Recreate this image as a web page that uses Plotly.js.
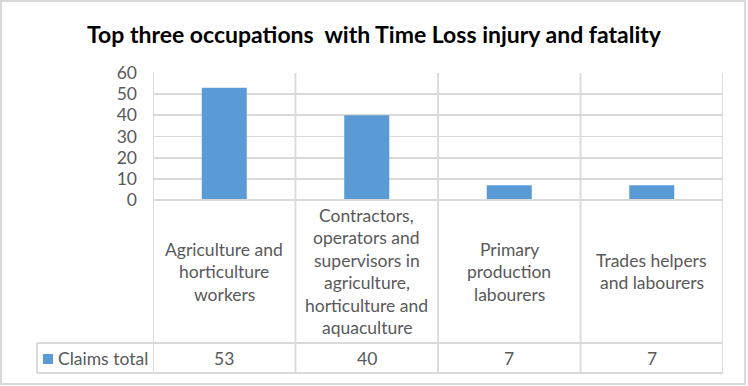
<!DOCTYPE html>
<html>
<head>
<meta charset="utf-8">
<script src="https://cdn.plot.ly/plotly-3.0.1.min.js"></script>
<style>html,body{margin:0;padding:0;background:#fff;}#chart{width:748px;height:386px;}</style>
</head>
<body>
<div id="chart"></div>
<script>
// ---- data ----
var chartTitle = "Top three occupations  with Time Loss injury and fatality";
var seriesName = "Claims total";
var categories = [
  "Agriculture and horticulture workers",
  "Contractors, operators and supervisors in agriculture, horticulture and aquaculture",
  "Primary production labourers",
  "Trades helpers and labourers"
];
var categoryLines = [
  ["Agriculture and", "horticulture", "workers"],
  ["Contractors,", "operators and", "supervisors in", "agriculture,", "horticulture and", "aquaculture"],
  ["Primary", "production", "labourers"],
  ["Trades helpers", "and labourers"]
];
var claimsTotal = [53, 40, 7, 7];
var yTickVals = [0, 10, 20, 30, 40, 50, 60];

// ---- layout geometry ----
var W = 748, H = 386;
var L = 153, R = 723, T = 73, B = 200;
var pw = R - L, ph = B - T;
function xp(px) { return (px - L) / pw; }
function yp(py) { return (B - py) / ph; }
var grid = "#d9d9d9", txt = "#595959", barColor = "#5b9bd5";
var FONT = "Lato, Calibri, 'Liberation Sans', sans-serif";
var fs = 17.5;
var rowTop = 343, rowBot = 373, legLeft = 37;
var lw = 1.8;

var shapes = [];
// outer border
shapes.push({type: "rect", xref: "paper", yref: "paper", x0: xp(1), x1: xp(745), y0: yp(384), y1: yp(1),
  line: {color: grid, width: 2}, fillcolor: "rgba(0,0,0,0)", layer: "below"});
// vertical category boundaries
for (var i = 0; i <= categories.length; i++) {
  shapes.push({type: "line", xref: "x", yref: "paper", x0: i - 0.5, x1: i - 0.5, y0: yp(rowBot), y1: yp(T),
    line: {color: grid, width: lw}, layer: "below"});
}
// horizontal table lines
shapes.push({type: "line", xref: "paper", yref: "paper", x0: 0, x1: 1, y0: 0, y1: 0, line: {color: grid, width: lw}});
shapes.push({type: "line", xref: "paper", yref: "paper", x0: xp(legLeft), x1: 1, y0: yp(rowTop), y1: yp(rowTop), line: {color: grid, width: lw}});
shapes.push({type: "line", xref: "paper", yref: "paper", x0: xp(legLeft), x1: 1, y0: yp(rowBot), y1: yp(rowBot), line: {color: grid, width: lw}});
shapes.push({type: "line", xref: "paper", yref: "paper", x0: xp(legLeft), x1: xp(legLeft), y0: yp(rowTop), y1: yp(rowBot), line: {color: grid, width: lw}});
// legend key
shapes.push({type: "rect", xref: "paper", yref: "paper", x0: xp(43), x1: xp(53), y0: yp(364), y1: yp(354),
  line: {width: 0}, fillcolor: barColor});

var annotations = [];
var lineGap = 22.5;
var labelCenter = (B + rowTop) / 2;
categoryLines.forEach(function (lines, ci) {
  lines.forEach(function (ln, li) {
    annotations.push({xref: "x", yref: "paper", x: ci, y: yp(labelCenter),
      yshift: -(li - (lines.length - 1) / 2) * lineGap,
      text: ln, showarrow: false, xanchor: "center", yanchor: "middle",
      font: {family: FONT, size: fs, color: txt}});
  });
});
claimsTotal.forEach(function (v, ci) {
  annotations.push({xref: "x", yref: "paper", x: ci, y: yp((rowTop + rowBot) / 2),
    text: String(v), showarrow: false, xanchor: "center", yanchor: "middle",
    font: {family: FONT, size: fs, color: txt}});
});
annotations.push({xref: "paper", yref: "paper", x: xp(56), y: yp((rowTop + rowBot) / 2),
  text: seriesName, showarrow: false, xanchor: "left", yanchor: "middle",
  font: {family: FONT, size: fs, color: txt}});

var trace = {
  type: "bar",
  x: categories,
  y: claimsTotal,
  name: seriesName,
  marker: {color: barColor},
  width: 0.316,
  hoverinfo: "skip"
};

var layout = {
  width: W, height: H,
  margin: {l: L, r: W - R, t: T, b: H - B, pad: 0},
  paper_bgcolor: "#ffffff",
  plot_bgcolor: "#ffffff",
  showlegend: false,
  title: {text: "<b>" + chartTitle + "</b>", xref: "container", yref: "container",
    x: 0.5, xanchor: "center", y: 1 - 35 / H, yanchor: "middle",
    font: {family: FONT, size: 23, color: "#000000"}},
  xaxis: {type: "category", range: [-0.5, categories.length - 0.5], showticklabels: false,
    showgrid: false, zeroline: false, showline: false, ticks: "", fixedrange: true},
  yaxis: {range: [0, 60], tickvals: yTickVals, ticktext: yTickVals.map(String),
    showgrid: true, gridcolor: grid, gridwidth: lw, zeroline: false, showline: false,
    ticks: "", tickfont: {family: FONT, size: fs, color: txt}, ticklabelstandoff: 15, fixedrange: true},
  shapes: shapes,
  annotations: annotations
};

Plotly.newPlot("chart", [trace], layout, {displayModeBar: false, staticPlot: true});
</script>
</body>
</html>
